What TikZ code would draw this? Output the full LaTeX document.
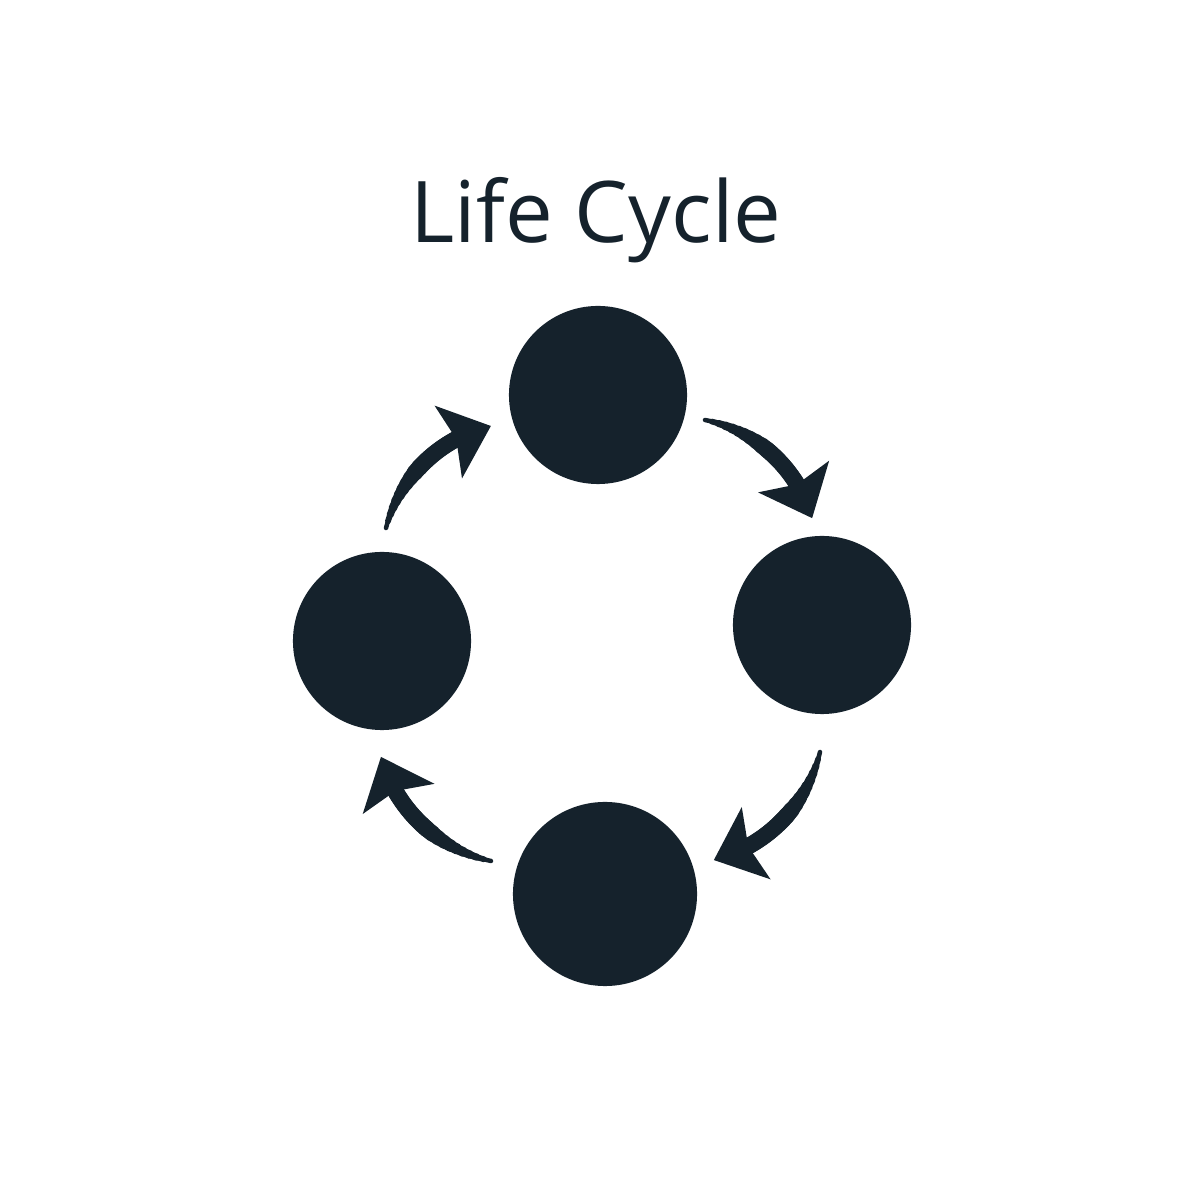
\documentclass[tikz,border=0pt]{standalone}
\usepackage{fontspec}
\setmainfont{Open Sans}
\usetikzlibrary{arrows.meta,bending}

\begin{document}
\begin{tikzpicture}[x=0.01cm,y=0.01cm,
  stage/.style={circle,fill=inkblue,inner sep=0pt,minimum size=1.78cm},
  turn/.style={draw=inkblue,line cap=round},
  turnhead/.style={-{Stealth[length=0.45cm,width=0.76cm,inset=0.08cm,flex]}}]
\definecolor{inkblue}{HTML}{15222C}
\useasboundingbox (0,0) rectangle (1200,1200);
\node [anchor=base,text=inkblue,font=\fontsize{24.2}{28}\selectfont] (title) at (596,957) {Life Cycle};
  % the four stages
  \node [stage] (top) at (598,805) {};
  \node [stage] (right) at (822,575) {};
  \node [stage,minimum size=1.84cm] (bottom) at (605,306) {};
  \node [stage] (left) at (382,559) {};
  % tails of the arrows
  \coordinate (tail1) at (705,780);
  \coordinate (tail2) at (820,448);
  \coordinate (tail3) at (491,339);
  \coordinate (tail4) at (386,672);
  % arrows, clockwise, thin at the tail and thick at the head
  \foreach \tail/\s/\r [evaluate=\s as \e using \s-62,
      evaluate=\s as \f using \s-50,
      evaluate=\s as \h using \s-28] in
      {tail1/78.5/1.41,tail2/-13.5/1.47,tail3/-102.4/1.47,tail4/165.2/1.42}
  {  \foreach \k [evaluate=\k as \w using 0.045+\k*0.013,
        evaluate=\k as \a using \s-\k*2.8] in {0,...,9}
     {  \path (\tail) arc[start angle=\s,end angle=\a,radius=\r cm] coordinate (step);
        \draw [turn,line width=\w cm] (step) arc[start angle=\a,end angle=\f,radius=\r cm];}
     \path (\tail) arc[start angle=\s,end angle=\h,radius=\r cm] coordinate (step);
     \draw [turn,turnhead,line width=0.165cm] (step) arc[start angle=\h,end angle=\e,radius=\r cm];}
\end{tikzpicture}
\end{document}
